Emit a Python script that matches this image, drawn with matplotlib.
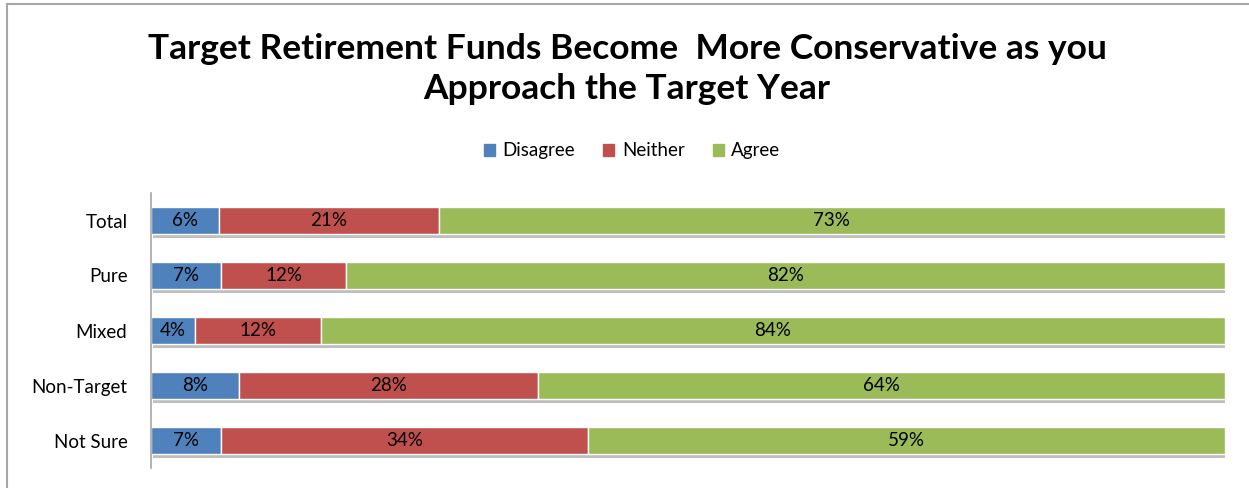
import matplotlib
matplotlib.use("Agg")
import matplotlib.pyplot as plt
import matplotlib.patheffects as pe
from matplotlib.patches import Rectangle
import numpy as np

categories = ["Total", "Pure", "Mixed", "Non-Target", "Not Sure"]
series_names = ["Disagree", "Neither", "Agree"]
disagree = [6.3, 6.5, 4.1, 8.2, 6.5]
neither = [20.5, 11.7, 11.7, 27.8, 34.2]
agree = [73.2, 81.8, 84.2, 64.0, 59.3]
colors = ["#4F81BD", "#C0504D", "#9BBB59"]

plt.rcParams['font.family'] = ['Lato', 'DejaVu Sans']

W, H = 1249, 488
fig = plt.figure(figsize=(W / 100, H / 100), dpi=100)

# outer frame (top and left visible)
fig.add_artist(Rectangle((7 / W, -0.1), 1.2, (H - 4) / H + 0.1, transform=fig.transFigure,
                         fill=False, edgecolor="#A6A6A6", linewidth=1.5))

ax = fig.add_axes([151 / W, (H - 468) / H, (1225 - 151) / W, (468 - 193) / H])

y = np.arange(len(categories))
left = np.zeros(len(categories))
shadow = [pe.SimplePatchShadow(offset=(1.5, -2.5), shadow_rgbFace="#000000", alpha=0.25), pe.Normal()]
for name, vals, col in zip(series_names, [disagree, neither, agree], colors):
    vals = np.array(vals, dtype=float)
    bars = ax.barh(y, vals, left=left, height=0.5, color=col, edgecolor="white",
                   linewidth=1.0, label=name)
    for b in bars:
        b.set_path_effects(shadow)
    for yi, l, v in zip(y, left, vals):
        ax.text(l + v / 2, yi, f"{int(np.floor(v + 0.5))}%", ha="center", va="center",
                fontsize=13.5, color="black")
    left += vals

ax.set_xlim(0, 100)
ax.set_ylim(len(categories) - 0.5, -0.5)
ax.set_yticks(y)
ax.set_yticklabels(categories, fontsize=13.5)
ax.tick_params(axis="y", length=0, pad=17)
ax.set_xticks([])
for s in ["top", "right", "bottom"]:
    ax.spines[s].set_visible(False)
ax.spines["left"].set_color("#A6A6A6")
ax.spines["left"].set_linewidth(1.2)

fig.text(627 / W, 1 - 69 / H, "Target Retirement Funds Become  More Conservative as you\nApproach the Target Year",
         ha="center", va="center", fontsize=25.5, fontweight="bold", linespacing=1.3)

handles = [Rectangle((0, 0), 1, 1, color=c) for c in colors]
fig.legend(handles, series_names, loc="center", bbox_to_anchor=(632 / W, 1 - 151 / H), ncol=3,
           frameon=False, fontsize=13.5, handlelength=0.6, handleheight=0.6, handletextpad=0.4,
           columnspacing=1.5)

fig.savefig("out.png", dpi=100)
